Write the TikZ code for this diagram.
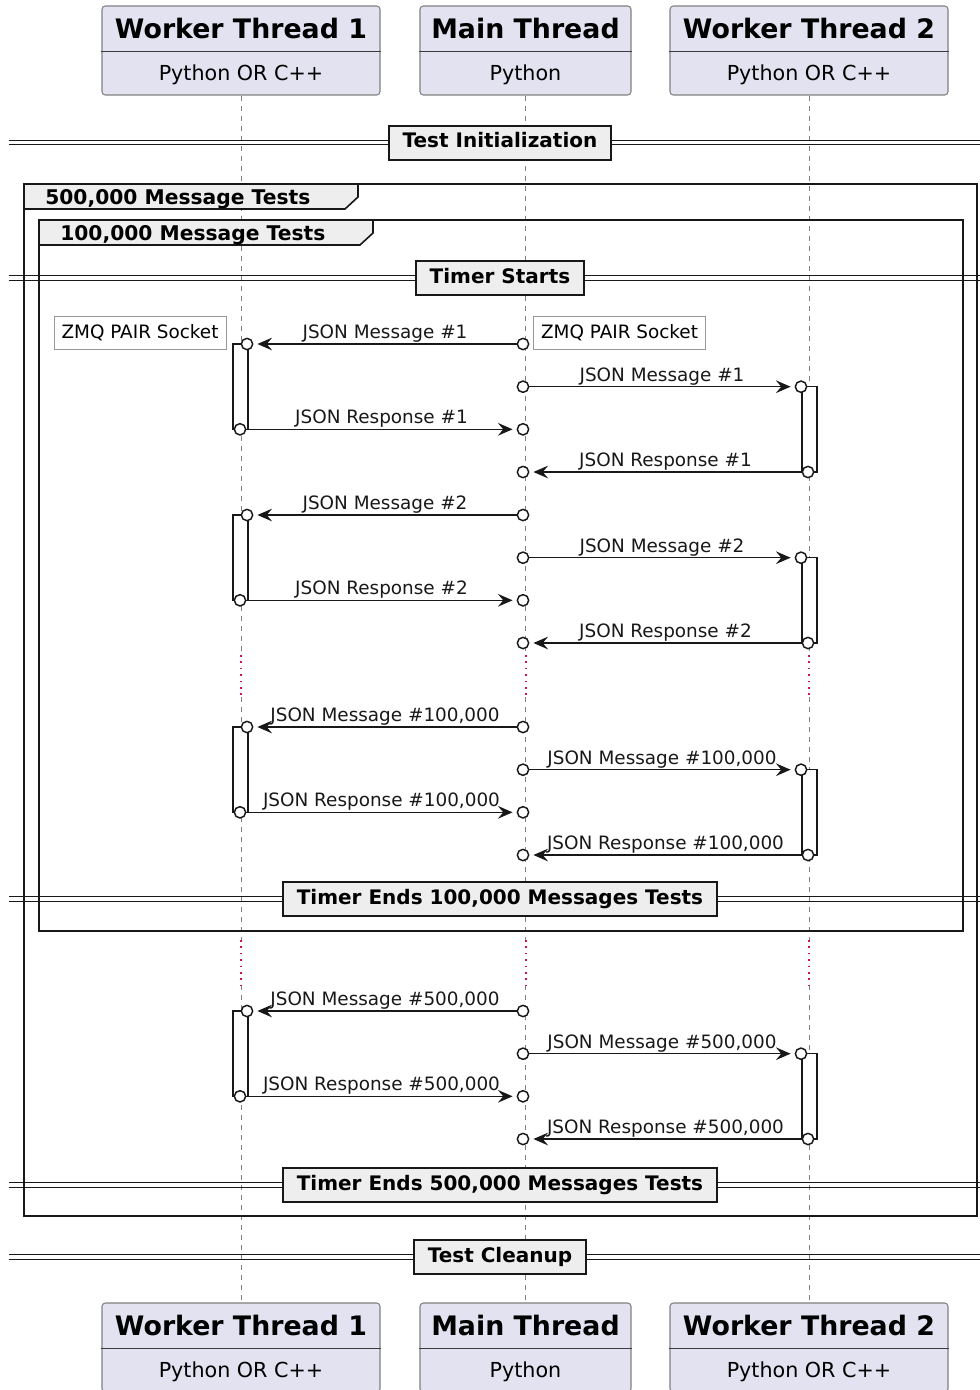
\documentclass[tikz,border=0pt]{standalone}
\usepackage{fontspec}
\setmainfont{DejaVu Sans}
\usetikzlibrary{arrows.meta,positioning}
\definecolor{PartFill}{HTML}{E2E2F0}
\definecolor{InkDark}{HTML}{181818}
\definecolor{BarFill}{HTML}{EEEEEE}
\definecolor{DelayRed}{HTML}{D0105A}
\newcommand{\msgfont}{\fontsize{13.8}{16}\selectfont}

\begin{document}
\begin{tikzpicture}[x=0.75pt,y=-0.75pt,
  partbox/.style={draw=InkDark!55,fill=PartFill,rounded corners=2.5pt,line width=0.8pt,minimum height=66.75pt,inner sep=0pt},
  partrule/.style={InkDark!85,line width=0.9pt},
  parttitle/.style={font=\fontsize{20.1}{24}\selectfont\bfseries,anchor=base,inner sep=0pt},
  partsub/.style={font=\fontsize{15.5}{18}\selectfont,anchor=base,inner sep=0pt},
  lifeline/.style={InkDark!55,line width=0.7pt,dash pattern=on 3.75pt off 3.75pt},
  delayline/.style={DelayRed,line width=1.5pt,dash pattern=on 1.2pt off 3.6pt},
  divline/.style={InkDark,line width=0.75pt},
  divbox/.style={draw=InkDark,line width=1.5pt,fill=BarFill,font=\fontsize{15}{18}\selectfont\bfseries,minimum height=25.5pt,inner xsep=10.5pt,text height=11pt,text depth=3.5pt},
  groupframe/.style={draw=InkDark,line width=1.5pt},
  grouptab/.style={draw=InkDark,line width=1.2pt,fill=BarFill},
  grouplabel/.style={font=\fontsize{15.2}{18}\selectfont\bfseries,anchor=base west,inner sep=0pt},
  sockettag/.style={draw=InkDark!45,line width=0.75pt,fill=white,font=\msgfont,minimum width=129pt,minimum height=24.75pt,inner sep=0pt},
  actbar/.style={draw=InkDark,line width=0.9pt,fill=white},
  endpt/.style={circle,draw=InkDark,line width=1.1pt,fill=white,minimum size=8.5pt,inner sep=0pt},
  msgarrow/.style={InkDark,line width=1.1pt,shorten >=3pt,-{Stealth[length=11pt,width=9.5pt,inset=4pt]}},
  msglabel/.style={font=\msgfont,anchor=base,inner sep=0pt,yshift=4.2pt}
]
\useasboundingbox (0,0) rectangle (980,1390);

% participants, top and bottom
\foreach \p/\x/\w/\ttl/\subt in {wt1/241/278/Worker Thread 1/Python OR C++,mt/525.5/211/Main Thread/Python,wt2/809/278/Worker Thread 2/Python OR C++}{
  \node[partbox,minimum width=\w*0.75pt] (\p-head) at (\x,50.5) {};
  \node[partbox,minimum width=\w*0.75pt] (\p-foot) at (\x,1347.5) {};
  \foreach \b in {head,foot}{
    \draw[partrule] ([yshift=-34.5pt]\p-\b.north west) -- ([yshift=-34.5pt]\p-\b.north east);
    \node[parttitle] (\p-\b-title) at ([yshift=-24.75pt]\p-\b.north) {\ttl};
    \node[partsub] (\p-\b-sub) at ([yshift=-56.25pt]\p-\b.north) {\subt};
  }
}

% lifelines with the two delays
\coordinate (dly1a) at (0,655);\coordinate (dly1b) at (0,697);
\coordinate (dly2a) at (0,940);\coordinate (dly2b) at (0,985);
\foreach \p in {wt1,mt,wt2}{
  \draw[lifeline] (\p-head.south) -- (\p-head.south |- dly1a) (\p-head.south |- dly1b) -- (\p-head.south |- dly2a)
    (\p-head.south |- dly2b) -- (\p-foot.north);
  \draw[delayline] (\p-head.south |- dly1a) -- (\p-head.south |- dly1b) (\p-head.south |- dly2a) -- (\p-head.south |- dly2b);
}

% groups
\draw[grouptab] (24,184) -- (358,184) -- (358,197) -- (345,209) -- (24,209) -- cycle;
\draw[groupframe] (24,184) rectangle (977,1216);
\node[grouplabel] (grp500) at (45,204) {500,000 Message Tests};
\draw[grouptab] (39,220) -- (373,220) -- (373,233) -- (360,245) -- (39,245) -- cycle;
\draw[groupframe] (39,220) rectangle (963,931);
\node[grouplabel] (grp100) at (60,240) {100,000 Message Tests};

% dividers
\foreach \y/\ttl [count=\i] in {142.5/Test Initialization,278/Timer Starts,899/{Timer Ends 100,000 Messages Tests},1185/{Timer Ends 500,000 Messages Tests},1257/Test Cleanup}{
  \draw[divline] (9,\y-2.4) -- (980,\y-2.4) (9,\y+2.4) -- (980,\y+2.4);
  \node[divbox] (div\i) at (500,\y) {\ttl};
}

% sockets
\node[sockettag] (tag-wt1) at (140,332.5) {ZMQ PAIR Socket};
\node[sockettag] (tag-mt) at (619.5,332.5) {ZMQ PAIR Socket};

% message rounds
\foreach \y/\lbl [count=\i] in {344/1,515/2,727/{100,000},1011/{500,000}}{
  \draw[actbar] (233,\y) rectangle (248,\y+85.3);
  \draw[actbar] (802,\y+42.7) rectangle (817,\y+128);
  \node[endpt] (mt-a\i) at (523,\y) {};\node[endpt] (wt1-a\i) at (247,\y) {};
  \node[endpt] (mt-b\i) at (523,\y+42.7) {};\node[endpt] (wt2-b\i) at (801,\y+42.7) {};
  \node[endpt] (wt1-c\i) at (240,\y+85.3) {};\node[endpt] (mt-c\i) at (523,\y+85.3) {};
  \node[endpt] (wt2-d\i) at (808,\y+128) {};\node[endpt] (mt-d\i) at (523,\y+128) {};
  \draw[msgarrow] (mt-a\i) -- node[msglabel] {JSON Message \#\lbl} (wt1-a\i);
  \draw[msgarrow] (mt-b\i) -- node[msglabel] {JSON Message \#\lbl} (wt2-b\i);
  \draw[msgarrow] (wt1-c\i) -- node[msglabel] {JSON Response \#\lbl} (mt-c\i);
  \draw[msgarrow] (wt2-d\i) -- node[msglabel] {JSON Response \#\lbl} (mt-d\i);
}
\end{tikzpicture}
\end{document}
